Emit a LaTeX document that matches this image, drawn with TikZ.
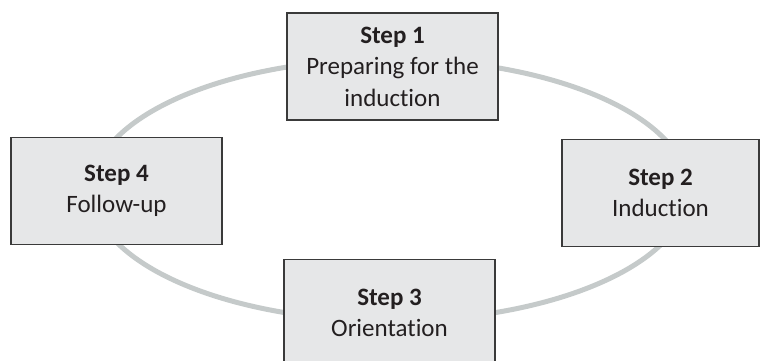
\documentclass[tikz,border=0pt]{standalone}
\usepackage{fontspec}
\setmainfont{Carlito}[Ligatures=NoCommon]
\definecolor{ringgray}{HTML}{C5CACA}
\definecolor{boxfill}{HTML}{E6E7E8}
\definecolor{boxline}{HTML}{3A3A3A}
\definecolor{ink}{HTML}{231F20}
\begin{document}
\begin{tikzpicture}[x=1pt,y=-1pt,
  ring/.style={draw=ringgray, line width=5pt},
  stepbox/.style={draw=boxline, fill=boxfill, line width=1.2pt,
    minimum width=211pt, minimum height=107pt, align=center, text=ink,
    font=\fontsize{25}{31.5}\selectfont, inner sep=0pt}]
\useasboundingbox (0,0) rectangle (761,360);
% cycle ring behind the four steps
\draw[ring] (390,190) ellipse [x radius=298, y radius=131];
\node[stepbox] (s1) at (392.5,66.5) {\textbf{Step 1}\\Preparing for the\\induction};
\node[stepbox, minimum width=197pt] (s2) at (660.5,193) {\textbf{Step 2}\\Induction};
\node[stepbox] (s3) at (389.5,313) {\textbf{Step 3}\\Orientation};
\node[stepbox] (s4) at (116.5,191) {\textbf{Step 4}\\Follow-up};
\end{tikzpicture}
\end{document}
